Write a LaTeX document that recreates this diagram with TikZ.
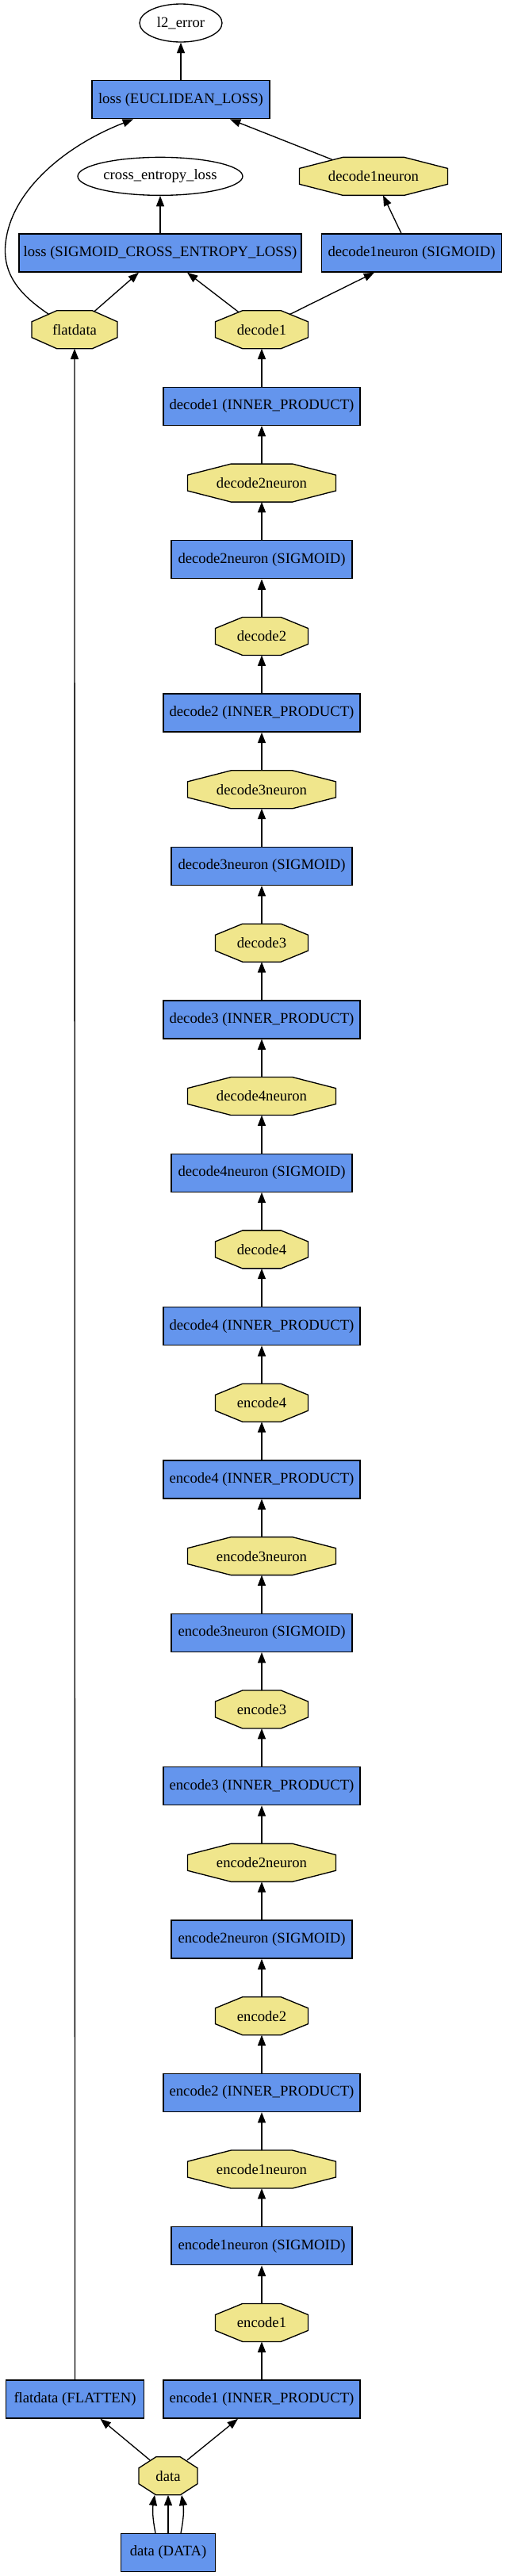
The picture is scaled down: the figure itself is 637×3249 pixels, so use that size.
\documentclass[tikz,border=0pt]{standalone}
\usepackage{fontspec}
\setmainfont{Liberation Serif}
\usetikzlibrary{arrows.meta,shapes.geometric,calc,backgrounds}
\definecolor{boxblue}{HTML}{6495ED}
\definecolor{octkhaki}{HTML}{F0E68C}
\tikzset{
  every node/.style={font=\fontsize{14pt}{16pt}\selectfont, inner sep=0pt},
  boxnode/.style={rectangle, draw=black, line width=1pt, fill=boxblue, minimum height=36pt, minimum width=#1*0.75pt},
  octnode/.style={rectangle, minimum height=36pt, minimum width=#1*0.75pt, outer sep=0pt},
  ellnode/.style={ellipse, draw=black, line width=1pt, fill=white, minimum height=36pt, minimum width=#1*0.75pt},
  octline/.style={draw=black, line width=1pt, fill=octkhaki},
  conn/.style={draw=black, line width=1pt, -{Triangle[length=10pt,width=7.5pt]}},
}
\newcommand\drawoct[1]{\draw[octline] ($(#1.north west)!0.293!(#1.north east)$) -- ($(#1.north west)!0.707!(#1.north east)$) -- ($(#1.north east)!0.293!(#1.south east)$) -- ($(#1.north east)!0.707!(#1.south east)$) -- ($(#1.south west)!0.707!(#1.south east)$) -- ($(#1.south west)!0.293!(#1.south east)$) -- ($(#1.north west)!0.707!(#1.south west)$) -- ($(#1.north west)!0.293!(#1.south west)$) -- cycle;}
\begin{document}
\begin{tikzpicture}[x=0.75pt,y=-0.75pt]
\useasboundingbox (0,0) rectangle (637,3249);
% top part
\node[ellnode=104] (l2) at (228,29) {l2\_error};
\node[boxnode=224] (lossE) at (228,{29+96.68}) {loss (EUCLIDEAN\_LOSS)};
\node[ellnode=208] (ce) at (202,{29+2*96.68}) {cross\_entropy\_loss};
\node[octnode=187] (d1n) at (471,{29+2*96.68}) {decode1neuron};
\node[boxnode=356] (lossS) at (202,{29+3*96.68}) {loss (SIGMOID\_CROSS\_ENTROPY\_LOSS)};
\node[boxnode=227] (d1ns) at (519,{29+3*96.68}) {decode1neuron (SIGMOID)};
\node[octnode=108] (flat) at (94,{29+4*96.68}) {flatdata};
% main chain
\node[octnode=117] (d1) at (330,{29+4*96.68}) {decode1};
\node[boxnode=248] (d1ip) at (330,{29+5*96.68}) {decode1 (INNER\_PRODUCT)};
\node[octnode=187] (d2n) at (330,{29+6*96.68}) {decode2neuron};
\node[boxnode=228] (d2ns) at (330,{29+7*96.68}) {decode2neuron (SIGMOID)};
\node[octnode=117] (d2) at (330,{29+8*96.68}) {decode2};
\node[boxnode=248] (d2ip) at (330,{29+9*96.68}) {decode2 (INNER\_PRODUCT)};
\node[octnode=187] (d3n) at (330,{29+10*96.68}) {decode3neuron};
\node[boxnode=228] (d3ns) at (330,{29+11*96.68}) {decode3neuron (SIGMOID)};
\node[octnode=117] (d3) at (330,{29+12*96.68}) {decode3};
\node[boxnode=248] (d3ip) at (330,{29+13*96.68}) {decode3 (INNER\_PRODUCT)};
\node[octnode=187] (d4n) at (330,{29+14*96.68}) {decode4neuron};
\node[boxnode=228] (d4ns) at (330,{29+15*96.68}) {decode4neuron (SIGMOID)};
\node[octnode=117] (d4) at (330,{29+16*96.68}) {decode4};
\node[boxnode=248] (d4ip) at (330,{29+17*96.68}) {decode4 (INNER\_PRODUCT)};
\node[octnode=117] (e4) at (330,{29+18*96.68}) {encode4};
\node[boxnode=248] (e4ip) at (330,{29+19*96.68}) {encode4 (INNER\_PRODUCT)};
\node[octnode=187] (e3n) at (330,{29+20*96.68}) {encode3neuron};
\node[boxnode=228] (e3ns) at (330,{29+21*96.68}) {encode3neuron (SIGMOID)};
\node[octnode=117] (e3) at (330,{29+22*96.68}) {encode3};
\node[boxnode=248] (e3ip) at (330,{29+23*96.68}) {encode3 (INNER\_PRODUCT)};
\node[octnode=187] (e2n) at (330,{29+24*96.68}) {encode2neuron};
\node[boxnode=228] (e2ns) at (330,{29+25*96.68}) {encode2neuron (SIGMOID)};
\node[octnode=117] (e2) at (330,{29+26*96.68}) {encode2};
\node[boxnode=248] (e2ip) at (330,{29+27*96.68}) {encode2 (INNER\_PRODUCT)};
\node[octnode=187] (e1n) at (330,{29+28*96.68}) {encode1neuron};
\node[boxnode=228] (e1ns) at (330,{29+29*96.68}) {encode1neuron (SIGMOID)};
\node[octnode=117] (e1) at (330,{29+30*96.68}) {encode1};
\node[boxnode=248] (e1ip) at (330,{29+31*96.68}) {encode1 (INNER\_PRODUCT)};
% bottom
\node[boxnode=174] (flatF) at (94.5,{29+31*96.68}) {flatdata (FLATTEN)};
\node[octnode=74] (data) at (212,{29+32*96.68}) {data};
\node[boxnode=119] (DATA) at (212,{29+33*96.68}) {data (DATA)};
% background and octagons
\begin{scope}[on background layer]
\fill[white] (0,0) rectangle (637,3249);
\foreach \n in {d1n,flat,d1,d2n,d2,d3n,d3,d4n,d4,e4,e3n,e3,e2n,e2,e1n,e1,data}{\drawoct{\n}}
\end{scope}
% connectors
\draw[conn] (lossE.north) -- (l2.south);
\draw[conn] ($(flat.center)+(-32,-19)$) .. controls ($(flat.center)+(-69,-44)$) and ($(flat.center)+(-94,-71)$) .. ($(flat.center)+(-86,-116)$) .. controls ($(flat.center)+(-76,-176)$) and ($(flat.center)+(-14,-231)$) .. ($(lossE.south)+(-60,0)$);
\draw[conn] ($(d1n.center)+(-52,-21)$) -- ($(lossE.south)+(62,0)$);
\draw[conn] (lossS.north) -- (ce.south);
\draw[conn] ($(d1ns.north)+(-13,0)$) -- ($(d1n.south)+(12,0)$);
\draw[conn] ($(flat.center)+(25,-23)$) -- ($(lossS.south)+(-27,0)$);
\draw[conn] ($(d1.center)+(-29,-22)$) -- ($(lossS.south)+(34,0)$);
\draw[conn] ($(d1.center)+(35,-19)$) -- ($(d1ns.south)+(-47,0)$);
\foreach \a/\b in {e1ip/e1,e1/e1ns,e1ns/e1n,e1n/e2ip,e2ip/e2,e2/e2ns,e2ns/e2n,e2n/e3ip,e3ip/e3,e3/e3ns,e3ns/e3n,e3n/e4ip,e4ip/e4,e4/d4ip,d4ip/d4,d4/d4ns,d4ns/d4n,d4n/d3ip,d3ip/d3,d3/d3ns,d3ns/d3n,d3n/d2ip,d2ip/d2,d2/d2ns,d2ns/d2n,d2n/d1ip,d1ip/d1}{\draw[conn] (\a.north) -- (\b.south);}
\draw[conn] (flatF.north) -- (flat.south);
\draw[conn] ($(data.center)+(-23,-20)$) -- ($(flatF.south)+(32,0)$);
\draw[conn] ($(data.center)+(24,-20)$) -- ($(e1ip.south)+(-30,0)$);
\draw[conn] ($(DATA.north)+(-16,0)$) to[bend left=10] ($(data.south)+(-17,0)$);
\draw[conn] (DATA.north) -- (data.south);
\draw[conn] ($(DATA.north)+(16,0)$) to[bend right=10] ($(data.south)+(17,0)$);
\end{tikzpicture}
\end{document}
